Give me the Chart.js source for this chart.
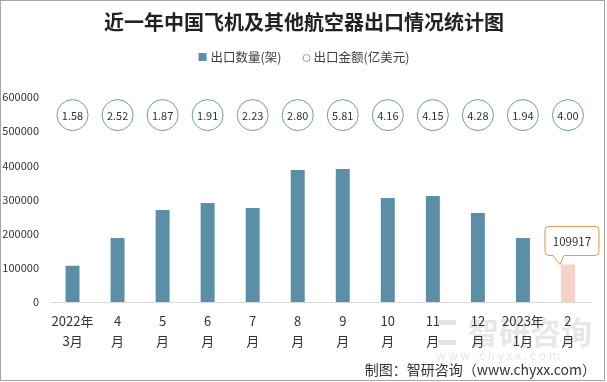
<!DOCTYPE html>
<html>
<head>
<meta charset="utf-8">
<script src="https://cdn.jsdelivr.net/npm/chart.js@4.4.0/dist/chart.umd.min.js"></script>
<style>
  html, body { margin: 0; padding: 0; background: #fff; }
  #wrap { width: 607px; height: 382px; position: relative; }
</style>
</head>
<body>
<div id="wrap"><canvas id="myChart" width="607" height="382"></canvas></div>
<script>
// data
var months = [['2022年', '3月'], ['4', '月'], ['5', '月'], ['6', '月'], ['7', '月'], ['8', '月'],
  ['9', '月'], ['10', '月'], ['11', '月'], ['12', '月'], ['2023年', '1月'], ['2', '月']];
var counts = [106000, 187600, 269300, 289800, 275200, 386000, 389000, 304300, 310200, 260600, 187600, 109917];
var amounts = [1.58, 2.52, 1.87, 1.91, 2.23, 2.80, 5.81, 4.16, 4.15, 4.28, 1.94, 4.00];
var yTicks = [0, 100000, 200000, 300000, 400000, 500000, 600000];

var FONT = '"Noto Sans CJK SC", "Noto Sans", sans-serif';
var BLUE = '#5b8fa8';
var PINK = '#f8d1c8';
var lastIdx = counts.length - 1;

var barColors = counts.map(function (v, i) { return i === lastIdx ? PINK : BLUE; });

var extras = {
  id: 'extras',
  beforeDraw: function (chart) {
    var ctx = chart.ctx;
    ctx.save();
    // faint watermark
    ctx.fillStyle = 'rgba(190,198,206,0.4)';
    ctx.font = 'bold 31px ' + FONT;
    ctx.textBaseline = 'middle';
    ctx.textAlign = 'left';
    ctx.fillText('智研咨询', 468, 332);
    ctx.font = '12px ' + FONT;
    ctx.fillText('w w w . c h y x x . c o m', 436, 355);
    ctx.fillStyle = 'rgba(150,175,200,0.3)';
    ctx.fillRect(438, 320, 18, 5);
    ctx.fillRect(438, 340, 18, 5);
    ctx.restore();
  },
  afterDraw: function (chart) {
    var ctx = chart.ctx;
    var xs = chart.scales.x, ys = chart.scales.y;
    ctx.save();

    // title
    ctx.fillStyle = '#222';
    ctx.font = 'bold 20px ' + FONT;
    ctx.textAlign = 'center';
    ctx.textBaseline = 'middle';
    ctx.fillText('近一年中国飞机及其他航空器出口情况统计图', 304, 22);

    // legend
    ctx.font = '12.5px ' + FONT;
    var t1 = '出口数量(架)', t2 = '出口金额(亿美元)';
    var w1 = ctx.measureText(t1).width, w2 = ctx.measureText(t2).width;
    var total = 8 + 4 + w1 + 21 + 8 + 3 + w2;
    var lx = 304 - total / 2, ly = 57;
    ctx.fillStyle = BLUE;
    ctx.fillRect(lx, ly - 4, 8, 8);
    ctx.fillStyle = '#404040';
    ctx.textAlign = 'left';
    ctx.fillText(t1, lx + 12, ly);
    var cx = lx + 12 + w1 + 21 + 4;
    ctx.beginPath();
    ctx.arc(cx, ly + 1, 3.5, 0, Math.PI * 2);
    ctx.fillStyle = '#fff';
    ctx.fill();
    ctx.strokeStyle = '#7fa3b8';
    ctx.lineWidth = 1;
    ctx.stroke();
    ctx.fillStyle = '#404040';
    ctx.fillText(t2, cx + 7, ly);

    // value bubbles
    var by = ys.getPixelForValue(547000);
    ctx.font = '11px ' + FONT;
    ctx.textAlign = 'center';
    amounts.forEach(function (a, i) {
      var bx = xs.getPixelForValue(i);
      ctx.beginPath();
      ctx.arc(bx, by, 15.5, 0, Math.PI * 2);
      ctx.fillStyle = '#fff';
      ctx.fill();
      ctx.strokeStyle = '#6f9ab2';
      ctx.lineWidth = 1;
      ctx.stroke();
      ctx.fillStyle = '#333';
      ctx.fillText(a.toFixed(2), bx, by + 0.5);
    });

    // callout for the last bar
    var bar = chart.getDatasetMeta(0).data[lastIdx];
    var tipX = bar.x - 8, tipY = bar.y;
    var bw = 54, bh = 29;
    var bx0 = bar.x + 4 - bw / 2, by0 = tipY - 9 - bh;
    var r = 4;
    ctx.beginPath();
    ctx.moveTo(bx0 + r, by0);
    ctx.lineTo(bx0 + bw - r, by0);
    ctx.arcTo(bx0 + bw, by0, bx0 + bw, by0 + r, r);
    ctx.lineTo(bx0 + bw, by0 + bh - r);
    ctx.arcTo(bx0 + bw, by0 + bh, bx0 + bw - r, by0 + bh, r);
    ctx.lineTo(tipX + 4, by0 + bh);
    ctx.lineTo(tipX, tipY);
    ctx.lineTo(tipX - 7, by0 + bh);
    ctx.lineTo(bx0 + r, by0 + bh);
    ctx.arcTo(bx0, by0 + bh, bx0, by0 + bh - r, r);
    ctx.lineTo(bx0, by0 + r);
    ctx.arcTo(bx0, by0, bx0 + r, by0, r);
    ctx.closePath();
    ctx.fillStyle = '#fff';
    ctx.fill();
    ctx.strokeStyle = '#e3944a';
    ctx.lineWidth = 1;
    ctx.stroke();
    ctx.fillStyle = '#333';
    ctx.font = '11.5px ' + FONT;
    ctx.fillText(String(counts[lastIdx]), bx0 + bw / 2, by0 + bh / 2 + 0.5);

    // source line
    ctx.font = '14px ' + FONT;
    ctx.textAlign = 'right';
    ctx.fillStyle = '#333';
    ctx.fillText('制图：智研咨询（www.chyxx.com）', 596, 370);

    // frame
    ctx.strokeStyle = '#a6a6a6';
    ctx.lineWidth = 1;
    ctx.strokeRect(0.5, 0.5, 604, 380);
    ctx.restore();
  }
};

new Chart('myChart', {
  type: 'bar',
  data: {
    labels: months,
    datasets: [{
      label: '出口数量(架)',
      data: counts,
      backgroundColor: barColors,
      borderWidth: 0,
      categoryPercentage: 1,
      barPercentage: 0.31
    }]
  },
  options: {
    responsive: false,
    animation: false,
    devicePixelRatio: 1,
    layout: { padding: { top: 97, right: 16.5, bottom: 0, left: 0 } },
    plugins: {
      legend: { display: false },
      title: { display: false },
      tooltip: { enabled: false }
    },
    scales: {
      x: {
        grid: { display: false, drawTicks: false },
        border: { display: true, color: '#d9d9d9', width: 1 },
        ticks: {
          color: '#333',
          padding: 9,
          maxRotation: 0,
          autoSkip: false,
          font: { family: FONT, size: 13, lineHeight: 1.55 }
        },
        afterFit: function (s) { s.height = 80; }
      },
      y: {
        min: 0,
        max: 600000,
        afterBuildTicks: function (s) { s.ticks = yTicks.map(function (v) { return { value: v }; }); },
        grid: { display: false, drawTicks: false },
        border: { display: false },
        ticks: {
          color: '#333',
          padding: 11,
          font: { family: FONT, size: 11 },
          callback: function (v) { return String(v); }
        },
        afterFit: function (s) { s.width = 50; }
      }
    }
  },
  plugins: [extras]
});
</script>
</body>
</html>
